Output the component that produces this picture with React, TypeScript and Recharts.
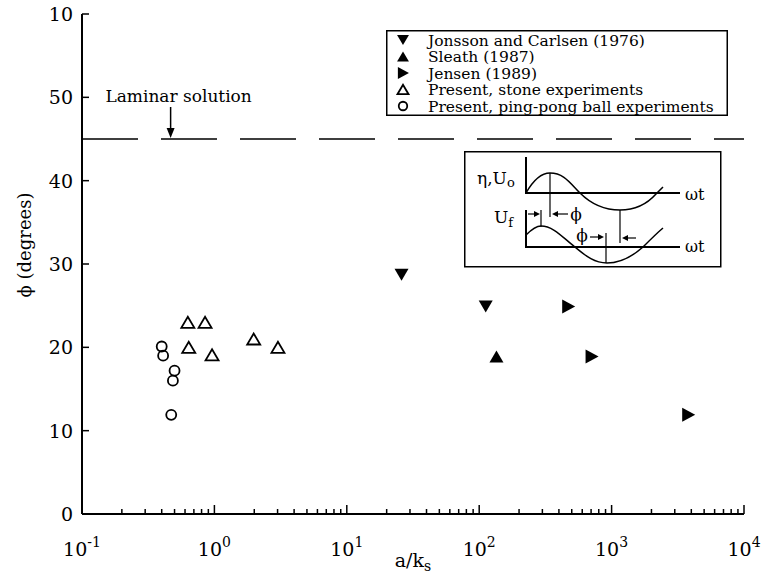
import React from 'react';
import { ScatterChart, Scatter, XAxis, YAxis, ReferenceLine, ReferenceDot, Legend } from 'recharts';

const FONT = '"DejaVu Serif", serif';

// a/k_s and phi (degrees)
const jonssonX = [25.9, 112];
const jonssonY = [28.7, 24.9];
const sleathX = [135];
const sleathY = [18.9];
const jensenX = [470, 706, 3790];
const jensenY = [24.9, 18.9, 11.9];
const stoneX = [0.63, 0.85, 0.64, 0.96, 1.98, 3.02];
const stoneY = [23, 23, 20, 19.1, 21, 20];
const pingPongX = [0.4, 0.41, 0.5, 0.486, 0.472];
const pingPongY = [20.1, 19, 17.2, 16, 11.9];

const seriesNames = [
  'Jonsson and Carlsen (1976)',
  'Sleath (1987)',
  'Jensen (1989)',
  'Present, stone experiments',
  'Present, ping-pong ball experiments',
];

const majorX = [0.1, 1, 10, 100, 1000, 10000];
const majorXExp = ['-1', '0', '1', '2', '3', '4'];
const yTicks = [0, 10, 20, 30, 40, 50, 60];
const yTickLabels = ['0', '10', '20', '30', '40', '50', '10'];
const laminarPhi = 45;

// log axis: decades plus 2..9 minor ticks
const xTicks: number[] = [];
majorX.forEach((m, i) => {
  xTicks.push(m);
  if (i < majorX.length - 1) for (let k = 2; k <= 9; k++) xTicks.push(m * k);
});

const zip = (xs: number[], ys: number[]) => xs.map((x, i) => ({ x, y: ys[i] }));

const isMajor = (v: number) => majorX.findIndex((m) => Math.abs(m - v) / m < 1e-6);

// marker shapes
const DownTri = ({ cx, cy, s = 1 }: any) => (
  <polygon points={`${cx - 7 * s},${cy - 6 * s} ${cx + 7 * s},${cy - 6 * s} ${cx},${cy + 6 * s}`} fill="#000" />
);
const UpTri = ({ cx, cy, s = 1 }: any) => (
  <polygon points={`${cx - 7 * s},${cy + 6 * s} ${cx + 7 * s},${cy + 6 * s} ${cx},${cy - 6 * s}`} fill="#000" />
);
const RightTri = ({ cx, cy, s = 1 }: any) => (
  <polygon points={`${cx - 6 * s},${cy - 7 * s} ${cx - 6 * s},${cy + 7 * s} ${cx + 7 * s},${cy}`} fill="#000" />
);
const OpenTri = ({ cx, cy, s = 1 }: any) => (
  <polygon
    points={`${cx - 6.5 * s},${cy + 5.5 * s} ${cx + 6.5 * s},${cy + 5.5 * s} ${cx},${cy - 5.5 * s}`}
    fill="none"
    stroke="#000"
    strokeWidth={1.8}
  />
);
const OpenCircle = ({ cx, cy, s = 1 }: any) => (
  <circle cx={cx} cy={cy} r={5 * s} fill="none" stroke="#000" strokeWidth={1.8} />
);

const markers = [DownTri, UpTri, RightTri, OpenTri, OpenCircle];

const BottomTick = (props: any) => {
  const { x, y, payload } = props;
  const mi = isMajor(payload.value);
  return (
    <g>
      <line x1={x} x2={x} y1={y} y2={y - (mi >= 0 ? 9 : 5)} stroke="#000" strokeWidth={1.5} />
      {mi >= 0 && (
        <text x={x} y={y + 42} textAnchor="middle" fontSize={19} fill="#000" style={{ fontFamily: FONT }}>
          10
          <tspan dy={-9} fontSize={14}>
            {majorXExp[mi]}
          </tspan>
        </text>
      )}
    </g>
  );
};

const TopTick = (props: any) => {
  const { x, y, payload } = props;
  const mi = isMajor(payload.value);
  return <line x1={x} x2={x} y1={y} y2={y + (mi >= 0 ? 9 : 5)} stroke="#000" strokeWidth={1.5} />;
};

const LeftTick = (props: any) => {
  const { x, y, payload } = props;
  const i = yTicks.indexOf(payload.value);
  return (
    <g>
      <line x1={x} x2={x + 7} y1={y} y2={y} stroke="#000" strokeWidth={1.5} />
      <text x={x - 9} y={y} dy={7} textAnchor="end" fontSize={19} fill="#000" style={{ fontFamily: FONT }}>
        {yTickLabels[i]}
      </text>
    </g>
  );
};

const RightTick = (props: any) => {
  const { x, y } = props;
  return <line x1={x} x2={x - 7} y1={y} y2={y} stroke="#000" strokeWidth={1.5} />;
};

const XLabel = (props: any) => {
  const vb = props.viewBox || { x: 82, y: 514, width: 662 };
  return (
    <text x={vb.x + vb.width / 2} y={vb.y + 53} textAnchor="middle" fontSize={19} fill="#000" style={{ fontFamily: FONT }}>
      a/k
      <tspan dy={4} fontSize={14}>
        s
      </tspan>
    </text>
  );
};

const YLabel = (props: any) => {
  const vb = props.viewBox || { y: 14, height: 500 };
  const cy = vb.y + vb.height / 2 - 19;
  return (
    <text
      x={25}
      y={cy}
      transform={`rotate(-90, 25, ${cy})`}
      textAnchor="middle"
      dy={6}
      fontSize={18}
      fill="#000"
      style={{ fontFamily: FONT }}
    >
      ϕ (degrees)
    </text>
  );
};

const LaminarNote = ({ cx, cy }: any) => (
  <g>
    <line x1={cx} x2={cx} y1={cy - 32} y2={cy - 8} stroke="#000" strokeWidth={1.5} />
    <polygon points={`${cx - 4},${cy - 11} ${cx + 4},${cy - 11} ${cx},${cy - 1}`} fill="#000" />
    <text x={cx + 8} y={cy - 37} textAnchor="middle" fontSize={17} fill="#000" style={{ fontFamily: FONT }}>
      Laminar solution
    </text>
  </g>
);

const LegendBox = () => (
  <svg width={342} height={86} style={{ display: 'block' }}>
    <rect x={0.75} y={0.75} width={340.5} height={84.5} fill="#fff" stroke="#000" strokeWidth={1.5} />
    {seriesNames.map((name, i) => {
      const M = markers[i];
      const cy = 10 + i * 16.5;
      return (
        <g key={name}>
          <M cx={17} cy={cy} s={0.85} />
          <text x={42} y={cy} dy={5.5} fontSize={15.5} fill="#000" style={{ fontFamily: FONT }}>
            {name}
          </text>
        </g>
      );
    })}
  </svg>
);

// schematic of surface elevation / velocity and bed friction phase lead
const PhaseInset = () => (
  <svg width={258} height={117} style={{ position: 'absolute', left: 464, top: 151 }}>
    <rect x={0.75} y={0.75} width={256} height={115} fill="#fff" stroke="#000" strokeWidth={1.5} />
    <text x={13} y={33} fontSize={17} fill="#000" style={{ fontFamily: FONT }}>
      η,U<tspan dy={3} fontSize={13}>o</tspan>
    </text>
    <text x={30} y={72} fontSize={17} fill="#000" style={{ fontFamily: FONT }}>
      U<tspan dy={4} fontSize={13}>f</tspan>
    </text>
    <text x={221} y={49} fontSize={16} fill="#000" style={{ fontFamily: FONT }}>ωt</text>
    <text x={221} y={101} fontSize={16} fill="#000" style={{ fontFamily: FONT }}>ωt</text>
    {/* axes */}
    <path d="M62 6 V42 H216" fill="none" stroke="#000" strokeWidth={2} />
    <path d="M62 59 V96 H216" fill="none" stroke="#000" strokeWidth={2} />
    {/* curves */}
    <path d="M62 42 C70 28 78 22 86 22 C100 22 106 32 116 42 C128 54 140 59 156 59 C172 59 184 52 192 43 C195 40 197 38 199 36" fill="none" stroke="#000" strokeWidth={1.5} />
    <path d="M62 84 C67 79 72 75 77 75 C90 75 100 88 111 96 C122 105 130 112 143 112 C158 112 170 104 179 96 C186 89 193 82 199 77" fill="none" stroke="#000" strokeWidth={1.5} />
    {/* phase markers */}
    <line x1={86} x2={86} y1={22} y2={66} stroke="#000" strokeWidth={1.2} />
    <line x1={77} x2={77} y1={59} y2={76} stroke="#000" strokeWidth={1.2} />
    <line x1={156} x2={156} y1={59} y2={92} stroke="#000" strokeWidth={1.2} />
    <line x1={142} x2={142} y1={82} y2={112} stroke="#000" strokeWidth={1.2} />
    {/* arrows */}
    <line x1={64} x2={72} y1={63} y2={63} stroke="#000" strokeWidth={1.2} />
    <polygon points="76,63 70,60 70,66" fill="#000" />
    <line x1={104} x2={92} y1={63} y2={63} stroke="#000" strokeWidth={1.2} />
    <polygon points="88,63 94,60 94,66" fill="#000" />
    <text x={112} y={63} dy={6} textAnchor="middle" fontSize={17} fill="#000" style={{ fontFamily: FONT }}>ϕ</text>
    <text x={118} y={84} dy={6} textAnchor="middle" fontSize={17} fill="#000" style={{ fontFamily: FONT }}>ϕ</text>
    <line x1={126} x2={136} y1={86} y2={86} stroke="#000" strokeWidth={1.2} />
    <polygon points="140,86 134,83 134,89" fill="#000" />
    <line x1={172} x2={162} y1={87} y2={87} stroke="#000" strokeWidth={1.2} />
    <polygon points="158,87 164,84 164,90" fill="#000" />
  </svg>
);

export default function App() {
  const seriesData = [
    zip(jonssonX, jonssonY),
    zip(sleathX, sleathY),
    zip(jensenX, jensenY),
    zip(stoneX, stoneY),
    zip(pingPongX, pingPongY),
  ];

  return (
    <div style={{ position: 'absolute', left: 0, top: 0, width: 763, height: 576, background: '#fff' }}>
      <ScatterChart width={763} height={576} margin={{ top: 14, right: 19, bottom: 12, left: 22 }}>
        <XAxis
          xAxisId="b"
          type="number"
          dataKey="x"
          scale="log"
          domain={[0.1, 10000]}
          ticks={xTicks}
          interval={0}
          allowDataOverflow
          height={50}
          tickSize={0}
          tickMargin={0}
          tickLine={false}
          axisLine={{ stroke: '#000', strokeWidth: 2 }}
          tick={<BottomTick />}
          label={<XLabel />}
        />
        <XAxis
          xAxisId="t"
          orientation="top"
          type="number"
          scale="log"
          domain={[0.1, 10000]}
          ticks={xTicks}
          interval={0}
          allowDataOverflow
          height={0}
          tickSize={0}
          tickMargin={0}
          tickLine={false}
          axisLine={{ stroke: '#000', strokeWidth: 2 }}
          tick={<TopTick />}
        />
        <YAxis
          yAxisId="l"
          type="number"
          dataKey="y"
          domain={[0, 60]}
          ticks={yTicks}
          interval={0}
          width={60}
          tickSize={0}
          tickMargin={0}
          tickLine={false}
          axisLine={{ stroke: '#000', strokeWidth: 2 }}
          tick={<LeftTick />}
          label={<YLabel />}
        />
        <YAxis
          yAxisId="r"
          orientation="right"
          type="number"
          domain={[0, 60]}
          ticks={yTicks}
          interval={0}
          width={0}
          tickSize={0}
          tickMargin={0}
          tickLine={false}
          axisLine={{ stroke: '#000', strokeWidth: 2 }}
          tick={<RightTick />}
        />
        <ReferenceLine
          xAxisId="b"
          yAxisId="l"
          y={laminarPhi}
          stroke="#000"
          strokeWidth={1.5}
          strokeDasharray="56 23"
        />
        <ReferenceDot
          xAxisId="b"
          yAxisId="l"
          x={0.467}
          y={laminarPhi}
          r={0}
          shape={(p: any) => <LaminarNote cx={p.cx} cy={p.cy} />}
        />
        {seriesData.map((d, i) => {
          const M = markers[i];
          return (
            <Scatter
              key={seriesNames[i]}
              name={seriesNames[i]}
              data={d}
              xAxisId="b"
              yAxisId="l"
              isAnimationActive={false}
              shape={(p: any) => <M cx={p.cx} cy={p.cy} />}
            />
          );
        })}
        <Legend
          layout="vertical"
          align="center"
          verticalAlign="middle"
          wrapperStyle={{ left: 386, top: 30, width: 342, height: 86 }}
          content={() => <LegendBox />}
        />
      </ScatterChart>
      <PhaseInset />
    </div>
  );
}
